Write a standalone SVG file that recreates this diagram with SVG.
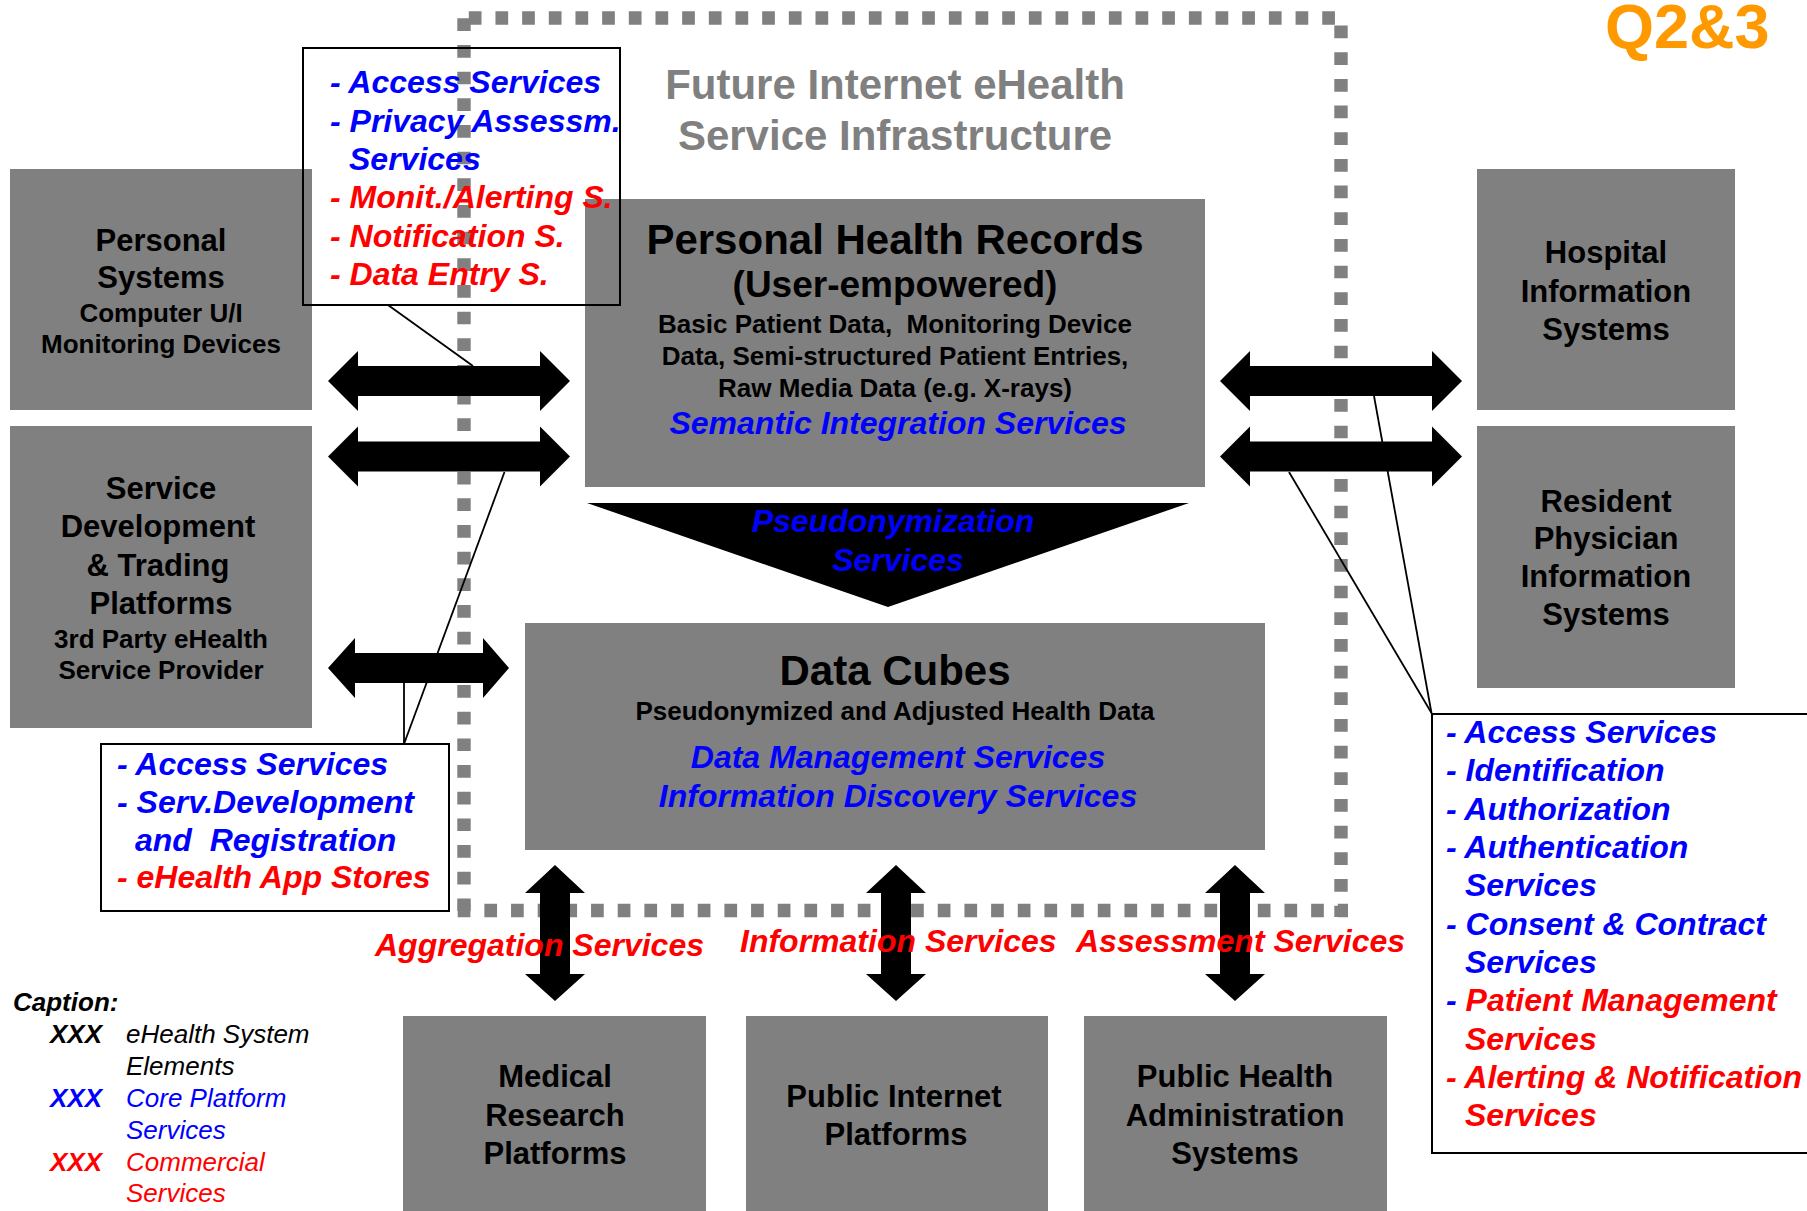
<svg xmlns="http://www.w3.org/2000/svg" width="1807" height="1211" viewBox="0 0 1807 1211">
<style>
text { font-family: "Liberation Sans", Arial, Helvetica, sans-serif; }
.box { fill: #808080; }
.nt { font-weight: bold; fill: #000; text-anchor: middle; }
.f31 { font-size: 31px; }
.f26 { font-size: 26px; }
.f42 { font-size: 42px; }
.bi { font-weight: bold; font-style: italic; font-size: 32px; }
.blue { fill: #0000FF; }
.red { fill: #FF0000; }
.lbl { fill: none; stroke: #000; stroke-width: 2; }
.dot { fill: none; stroke: #808080; stroke-width: 13.4; stroke-dasharray: 12.7 13.97; }
.arr { fill: #000; }
.ln { fill: none; stroke: #000; stroke-width: 1.8; }
.cap { font-size: 26px; font-style: italic; }
</style>
<defs>
<path id="harrow" d="M0,0 L30,-30 L30,-15 L212,-15 L212,-30 L242,0 L212,30 L212,15 L30,15 L30,30 Z"/>
<path id="varrow" d="M0,0 L30,28 L15,28 L15,109 L30,109 L0,136 L-30,109 L-15,109 L-15,28 L-30,28 Z"/>
</defs>
<rect width="1807" height="1211" fill="#fff"/>

<!-- Title and tag -->
<g id="title">
<text x="895" y="99" font-size="42" font-weight="bold" fill="#808080" text-anchor="middle">Future Internet eHealth</text>
<text x="895" y="150" font-size="42" font-weight="bold" fill="#808080" text-anchor="middle">Service Infrastructure</text>
</g>
<g id="tag">
<text x="1605" y="48" font-size="63" font-weight="bold" fill="#FF9900">Q2&amp;3</text>
</g>

<!-- Nodes -->
<g id="personal-systems">
<rect class="box" x="10" y="169" width="302" height="241"/>
<text class="nt f31" x="161" y="251">Personal</text>
<text class="nt f31" x="161" y="288">Systems</text>
<text class="nt f26" x="161" y="322">Computer U/I</text>
<text class="nt f26" x="161" y="353">Monitoring Devices</text>
</g>
<g id="service-development">
<rect class="box" x="10" y="426" width="302" height="302"/>
<text class="nt f31" x="161" y="499">Service</text>
<text class="nt f31" x="158" y="537">Development</text>
<text class="nt f31" x="158" y="576">&amp; Trading</text>
<text class="nt f31" x="161" y="614">Platforms</text>
<text class="nt f26" x="161" y="648">3rd Party eHealth</text>
<text class="nt f26" x="161" y="679">Service Provider</text>
</g>
<g id="phr">
<rect class="box" x="585" y="199" width="620" height="288"/>
<text class="nt f42" x="895" y="254">Personal Health Records</text>
<text class="nt" font-size="37" x="895" y="297">(User-empowered)</text>
<text class="nt f26" x="895" y="333" xml:space="preserve">Basic Patient Data,  Monitoring Device</text>
<text class="nt f26" x="895" y="365">Data, Semi-structured Patient Entries,</text>
<text class="nt f26" x="895" y="397">Raw Media Data (e.g. X-rays)</text>
<text class="bi blue" x="898" y="434" text-anchor="middle">Semantic Integration Services</text>
</g>
<g id="pseudonymization">
<polygon points="587,503 1189,503 888,607" fill="#000"/>
<text class="bi blue" x="893" y="532" text-anchor="middle">Pseudonymization</text>
<text class="bi blue" x="898" y="571" text-anchor="middle">Services</text>
</g>
<g id="data-cubes">
<rect class="box" x="525" y="623" width="740" height="227"/>
<text class="nt f42" x="895" y="685">Data Cubes</text>
<text class="nt f26" x="895" y="720">Pseudonymized and Adjusted Health Data</text>
<text class="bi blue" x="898" y="768" text-anchor="middle">Data Management Services</text>
<text class="bi blue" x="898" y="807" text-anchor="middle">Information Discovery Services</text>
</g>
<g id="hospital">
<rect class="box" x="1477" y="169" width="258" height="241"/>
<text class="nt f31" x="1606" y="263">Hospital</text>
<text class="nt f31" x="1606" y="302">Information</text>
<text class="nt f31" x="1606" y="340">Systems</text>
</g>
<g id="resident-physician">
<rect class="box" x="1477" y="426" width="258" height="262"/>
<text class="nt f31" x="1606" y="512">Resident</text>
<text class="nt f31" x="1606" y="549">Physician</text>
<text class="nt f31" x="1606" y="587">Information</text>
<text class="nt f31" x="1606" y="625">Systems</text>
</g>
<g id="medical-research">
<rect class="box" x="403" y="1016" width="303" height="200"/>
<text class="nt f31" x="555" y="1087">Medical</text>
<text class="nt f31" x="555" y="1126">Research</text>
<text class="nt f31" x="555" y="1164">Platforms</text>
</g>
<g id="public-internet">
<rect class="box" x="746" y="1016" width="302" height="200"/>
<text class="nt f31" x="894" y="1107">Public Internet</text>
<text class="nt f31" x="896" y="1145">Platforms</text>
</g>
<g id="public-health">
<rect class="box" x="1084" y="1016" width="303" height="200"/>
<text class="nt f31" x="1235" y="1087">Public Health</text>
<text class="nt f31" x="1235" y="1126">Administration</text>
<text class="nt f31" x="1235" y="1164">Systems</text>
</g>

<!-- Infrastructure boundary -->
<g id="boundary">
<path class="dot" d="M457,18 H1348" stroke-dashoffset="14.87"/>
<path class="dot" d="M1341,12 V917" stroke-dashoffset="13.07"/>
<path class="dot" d="M464,12 V917" stroke-dashoffset="20.37"/>
<path class="dot" d="M457,910.5 H1348" stroke-dashoffset="-0.7"/>
</g>

<!-- Connectors -->
<g id="connectors">
<line class="ln" x1="388" y1="305" x2="473" y2="366"/>
<line class="ln" x1="404" y1="744" x2="404" y2="683"/>
<line class="ln" x1="404" y1="744" x2="504.5" y2="472"/>
<line class="ln" x1="1431.5" y1="713" x2="1374" y2="396"/>
<line class="ln" x1="1431.5" y1="713" x2="1289" y2="472"/>
<use href="#harrow" class="arr" x="328" y="381"/>
<use href="#harrow" class="arr" x="328" y="456.5"/>
<path class="arr" d="M328,668 L355,638 L355,653 L483,653 L483,638 L509,668 L483,698 L483,683 L355,683 L355,698 Z"/>
<use href="#harrow" class="arr" x="1220" y="381"/>
<use href="#harrow" class="arr" x="1220" y="456.5"/>
<use href="#varrow" class="arr" x="555" y="865"/>
<use href="#varrow" class="arr" x="896" y="865"/>
<use href="#varrow" class="arr" x="1235" y="865"/>
</g>

<!-- Service labels on the bottom links -->
<g id="link-labels">
<text class="bi red" x="375" y="956">Aggregation Services</text>
<text class="bi red" x="740" y="952">Information Services</text>
<text class="bi red" x="1076" y="952">Assessment Services</text>
</g>

<!-- Annotation boxes -->
<g id="note-personal">
<rect class="lbl" x="303" y="48" width="317" height="257"/>
<text class="bi blue" x="330" y="93">- Access Services</text>
<text class="bi blue" x="330" y="132">- Privacy Assessm.</text>
<text class="bi blue" x="349" y="170">Services</text>
<text class="bi red" x="330" y="208">- Monit./Alerting S.</text>
<text class="bi red" x="330" y="247">- Notification S.</text>
<text class="bi red" x="330" y="285">- Data Entry S.</text>
</g>
<g id="note-service-dev">
<rect class="lbl" x="101" y="744" width="348" height="167"/>
<text class="bi blue" x="117" y="775">- Access Services</text>
<text class="bi blue" x="117" y="813">- Serv.Development</text>
<text class="bi blue" x="135" y="851" xml:space="preserve">and  Registration</text>
<text class="bi red" x="117" y="888">- eHealth App Stores</text>
</g>
<g id="note-right">
<rect class="lbl" x="1432" y="714" width="400" height="439"/>
<text class="bi blue" x="1446" y="743">- Access Services</text>
<text class="bi blue" x="1446" y="781">- Identification</text>
<text class="bi blue" x="1446" y="820">- Authorization</text>
<text class="bi blue" x="1446" y="858">- Authentication</text>
<text class="bi blue" x="1465" y="896">Services</text>
<text class="bi blue" x="1446" y="935">- Consent &amp; Contract</text>
<text class="bi blue" x="1465" y="973">Services</text>
<text class="bi" x="1446" y="1011"><tspan class="blue">- </tspan><tspan class="red">Patient Management</tspan></text>
<text class="bi red" x="1465" y="1050">Services</text>
<text class="bi red" x="1446" y="1088">- Alerting &amp; Notification</text>
<text class="bi red" x="1465" y="1126">Services</text>
</g>

<!-- Caption -->
<g id="caption">
<text x="13" y="1011" font-size="26" font-weight="bold" font-style="italic" fill="#000">Caption:</text>
<text x="50" y="1043" font-size="26" font-weight="bold" font-style="italic" fill="#000">XXX</text>
<text class="cap" x="126" y="1043" fill="#000">eHealth System</text>
<text class="cap" x="126" y="1075" fill="#000">Elements</text>
<text x="50" y="1107" font-size="26" font-weight="bold" font-style="italic" fill="#0000FF">XXX</text>
<text class="cap" x="126" y="1107" fill="#0000FF">Core Platform</text>
<text class="cap" x="126" y="1139" fill="#0000FF">Services</text>
<text x="50" y="1171" font-size="26" font-weight="bold" font-style="italic" fill="#FF0000">XXX</text>
<text class="cap" x="126" y="1171" fill="#FF0000">Commercial</text>
<text class="cap" x="126" y="1202" fill="#FF0000">Services</text>
</g>
</svg>
